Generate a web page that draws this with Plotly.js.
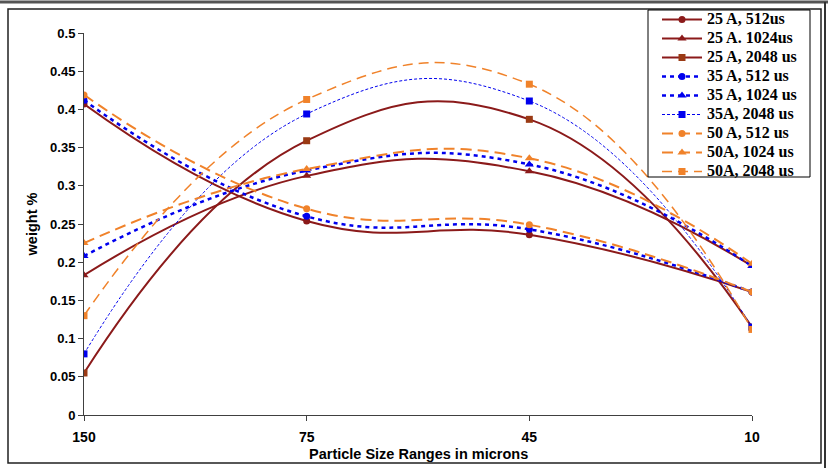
<!DOCTYPE html>
<html>
<head>
<meta charset="utf-8">
<script src="https://cdn.plot.ly/plotly-3.0.1.min.js"></script>
<style>
  html, body { margin: 0; padding: 0; background: #fff; }
  #chart { width: 828px; height: 474px; }
</style>
</head>
<body>
<div id="chart"></div>
<script>
// Particle size ranges (microns) along the x axis
const sizeRanges = ['150', '75', '45', '10'];

// Weight % per size range, one array per current / pulse setting
const w25A512 = [0.407, 0.254, 0.236, 0.161];
const w25A1024 = [0.183, 0.313, 0.319, 0.195];
const w25A2048 = [0.055, 0.359, 0.387, 0.115];
const w35A512 = [0.412, 0.260, 0.243, 0.161];
const w35A1024 = [0.208, 0.320, 0.328, 0.195];
const w35A2048 = [0.080, 0.394, 0.411, 0.115];
const w50A512 = [0.419, 0.270, 0.249, 0.161];
const w50A1024 = [0.225, 0.322, 0.336, 0.198];
const w50A2048 = [0.130, 0.413, 0.433, 0.112];

const seriesNames = [
  '25 A, 512us', '25 A. 1024us', '25 A, 2048 us',
  '35 A, 512 us', '35 A, 1024 us', '35A, 2048 us',
  '50 A, 512 us', '50A, 1024 us', '50A, 2048 us'
];

const RED = '#8B1A1A';
const BLUE = '#0000EE';
const ORANGE = '#F0822A';

function series(name, y, lineColor, dash, width, symbol, markerColor, msize) {
  return {
    type: 'scatter',
    mode: 'lines+markers',
    x: sizeRanges,
    y: y,
    // larger legend text while keeping legend rows compact
    name: '<span style="font-size:16px">' + name + '</span>',
    line: { color: lineColor, dash: dash, width: width, shape: 'spline', smoothing: 1.3 },
    marker: { symbol: symbol, color: markerColor, size: msize },
    hoverinfo: 'x+y'
  };
}

const data = [
  series(seriesNames[0], w25A512, RED, 'solid', 2, 'circle', RED, 7),
  series(seriesNames[1], w25A1024, RED, 'solid', 2, 'triangle-up', RED, 8),
  series(seriesNames[2], w25A2048, RED, 'solid', 2, 'square', '#9A3A14', 7),
  series(seriesNames[3], w35A512, BLUE, '4px,4px', 2.5, 'circle', BLUE, 7),
  series(seriesNames[4], w35A1024, BLUE, '4px,4px', 2.5, 'triangle-up', BLUE, 8),
  series(seriesNames[5], w35A2048, BLUE, '3px,2px', 1, 'square', BLUE, 7),
  series(seriesNames[6], w50A512, ORANGE, '11px,6px', 2, 'circle', ORANGE, 7),
  series(seriesNames[7], w50A1024, ORANGE, '11px,6px', 2, 'triangle-up', ORANGE, 8),
  series(seriesNames[8], w50A2048, ORANGE, '10px,6px', 1.5, 'square', ORANGE, 7)
];

// plot area: left 84, right 752, top 33, bottom 415 (px)
const L = 84, R = 752, T = 33, B = 415;
const px = v => (v - L) / (R - L);
const py = v => (B - v) / (B - T);

const SANS = 'Liberation Sans, Arial, sans-serif';
const sansBold = { family: SANS, size: 13, color: '#000', weight: 'bold' };

const layout = {
  width: 828,
  height: 474,
  margin: { l: L, r: 828 - R, t: T, b: 474 - B, autoexpand: false },
  paper_bgcolor: '#fff',
  plot_bgcolor: '#fff',
  showlegend: true,
  xaxis: {
    type: 'category',
    range: [0, 3],
    showgrid: false,
    zeroline: false,
    showline: true,
    linecolor: '#404040',
    linewidth: 1,
    ticks: 'outside',
    ticklen: 5,
    tickcolor: '#404040',
    ticklabelstandoff: 4,
    tickfont: { family: SANS, size: 14, color: '#000', weight: 'bold' },
    fixedrange: true
  },
  xaxis2: {
    type: 'linear',
    range: [0, 3],
    dtick: 1,
    overlaying: 'x',
    anchor: 'y',
    side: 'bottom',
    showgrid: false,
    zeroline: false,
    showline: false,
    ticks: 'inside',
    ticklen: 5,
    tickcolor: '#404040',
    showticklabels: false
  },
  yaxis: {
    range: [0, 0.5],
    dtick: 0.05,
    showgrid: false,
    zeroline: false,
    showline: true,
    linecolor: '#404040',
    linewidth: 1,
    ticks: 'outside',
    ticklen: 5,
    tickcolor: '#404040',
    tickfont: sansBold,
    title: { text: 'weight %', font: { family: SANS, size: 14.5, color: '#000', weight: 'bold' }, standoff: 9 },
    fixedrange: true
  },
  yaxis2: {
    range: [0, 0.5],
    dtick: 0.05,
    overlaying: 'y',
    anchor: 'x',
    side: 'left',
    showgrid: false,
    zeroline: false,
    showline: false,
    ticks: 'inside',
    ticklen: 5,
    tickcolor: '#404040',
    showticklabels: false
  },
  legend: {
    x: px(657),
    y: py(5),
    xanchor: 'left',
    yanchor: 'top',
    bgcolor: 'rgba(0,0,0,0)',
    borderwidth: 0,
    itemwidth: 40,
    traceorder: 'normal',
    font: { family: 'Liberation Serif, Times New Roman, serif', size: 10.4, color: '#000', weight: 'bold' }
  },
  annotations: [
    { text: 'Particle Size Ranges in microns', xref: 'paper', yref: 'paper',
      x: 0.5, y: py(454), xanchor: 'center', yanchor: 'middle', showarrow: false,
      font: { family: SANS, size: 14.5, color: '#000', weight: 'bold' } }
  ],
  shapes: [
    // outer frame
    { type: 'rect', xref: 'paper', yref: 'paper', x0: px(8), x1: px(821), y0: py(463), y1: py(9),
      line: { color: '#202020', width: 1.5 }, layer: 'below' },
    { type: 'line', xref: 'paper', yref: 'paper', x0: px(0), x1: px(828), y0: py(2), y1: py(2),
      line: { color: '#555', width: 3 } },
    { type: 'line', xref: 'paper', yref: 'paper', x0: px(825), x1: px(825), y0: py(2), y1: py(468),
      line: { color: '#333', width: 2 } },
    // legend box
    { type: 'rect', xref: 'paper', yref: 'paper', x0: px(648), x1: px(810), y0: py(177), y1: py(10),
      line: { color: '#000', width: 1 }, fillcolor: '#fff', layer: 'above' }
  ]
};

Plotly.newPlot('chart', data, layout, { displayModeBar: false, staticPlot: true });
</script>
</body>
</html>
